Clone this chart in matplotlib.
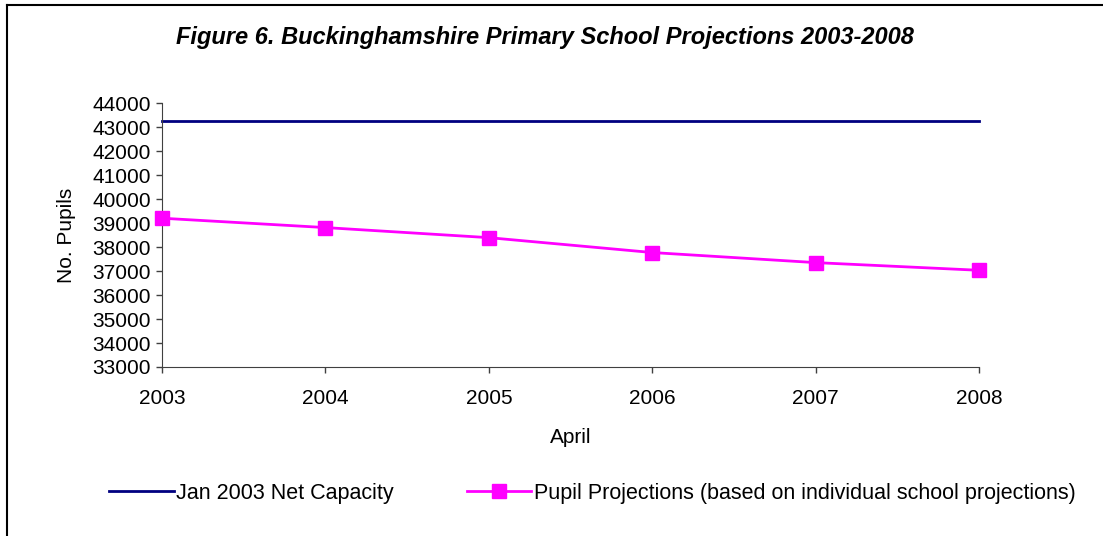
import matplotlib
matplotlib.use("Agg")
import matplotlib.pyplot as plt
from matplotlib.lines import Line2D

plt.rcParams["font.family"] = ["Liberation Sans", "DejaVu Sans"]

years = [2003, 2004, 2005, 2006, 2007, 2008]
capacity = [43250, 43250, 43250, 43250, 43250, 43250]
projections = [39200, 38810, 38390, 37770, 37350, 37030]

NAVY = "#000080"
PINK = "#FF00FF"
FS = 15

fig = plt.figure(figsize=(11.03, 5.36), dpi=100)
ax = fig.add_axes([0.1469, 0.3153, 0.7407, 0.4925])

ax.plot(years, capacity, color=NAVY, lw=2, label="Jan 2003 Net Capacity", clip_on=False)
ax.plot(years, projections, color=PINK, lw=2, marker="s", markersize=10.5,
        markeredgecolor=PINK, label="Pupil Projections (based on individual school projections)",
        clip_on=False, zorder=3)

ax.set_xlim(2003, 2008)
ax.set_ylim(33000, 44000)
ax.set_xticks(years)
ax.set_yticks(range(33000, 44001, 1000))
ax.tick_params(labelsize=FS, length=4, width=1, color="#404040", direction="out", pad=4)
ax.tick_params(axis="x", pad=12)
for s in ["top", "right"]:
    ax.spines[s].set_visible(False)
for s in ["left", "bottom"]:
    ax.spines[s].set_color("#404040")
ax.set_xlabel("April", fontsize=FS, labelpad=14)
ax.set_ylabel("No. Pupils", fontsize=FS, labelpad=12)

fig.text(0.494, 0.93, "Figure 6. Buckinghamshire Primary School Projections 2003-2008",
         ha="center", va="center", fontsize=17, fontweight="bold", fontstyle="italic")

fig.legend(loc="center", bbox_to_anchor=(0.537, 0.08), ncol=2, frameon=False,
           fontsize=15.5, handlelength=3.0, handletextpad=0.1, columnspacing=3.4)

# chart border (top and left visible)
fig.add_artist(Line2D([0.0065, 1.0], [0.9907, 0.9907], color="black", lw=1.5))
fig.add_artist(Line2D([0.0065, 0.0065], [0.0, 0.9907], color="black", lw=1.5))

fig.savefig("out.png", dpi=100)
